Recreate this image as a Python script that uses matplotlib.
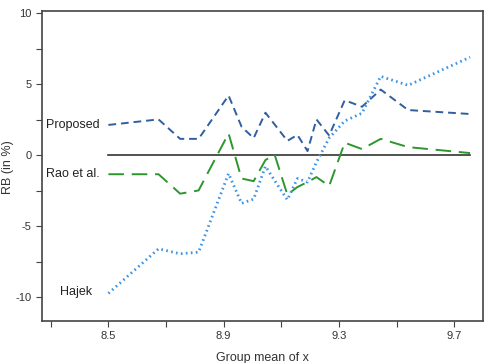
import numpy as np
import matplotlib
matplotlib.use("Agg")
from matplotlib import pyplot as plt

plt.rcParams['font.family'] = ['Liberation Sans', 'DejaVu Sans']

# group means (shared by the three series)
x = [8.50, 8.674, 8.749, 8.813, 8.917, 8.962, 9.004, 9.045, 9.077, 9.121,
     9.156, 9.191, 9.222, 9.266, 9.320, 9.380, 9.445, 9.540, 9.755]

proposed = [2.12, 2.51, 1.14, 1.14, 4.19, 2.0, 1.19, 2.98, 2.15, 1.0,
            1.42, 0.28, 2.51, 1.38, 3.86, 3.4, 4.61, 3.17, 2.89]
rao = [-1.35, -1.35, -2.72, -2.49, 1.52, -1.65, -1.84, -0.35, 0.02, -2.79,
       -2.25, -1.9, -1.55, -2.18, 0.87, 0.42, 1.14, 0.56, 0.14]
hajek = [-9.74, -6.6, -6.95, -6.84, -1.3, -3.4, -3.1, -0.79, -1.8, -3.15,
         -1.65, -1.9, -0.5, 1.2, 2.4, 2.95, 5.54, 4.91, 6.89]

names = ["Proposed", "Rao et al.", "Hajek"]

fig = plt.figure(figsize=(4.84, 3.63), dpi=100)
ax = fig.add_axes([0.087, 0.117, 0.911, 0.853])

ax.plot([x[0], x[-1]], [0, 0], color='#333333', lw=1.2)
ax.plot(x, proposed, color='#2f5f9f', lw=1.4, dashes=(4, 2.5))
ax.plot(x, rao, color='#2e962e', lw=1.4, dashes=(8, 4))
ax.plot(x, hajek, color='#3d95e8', lw=2.0, dashes=(0.6, 1.2))

# labels at the start of each line
ax.text(8.468, proposed[0], names[0], ha='right', va='center', fontsize=9, color='#222222')
ax.text(8.468, rao[0], names[1], ha='right', va='center', fontsize=9, color='#222222')
ax.text(8.444, hajek[0] + 0.1, names[2], ha='right', va='center', fontsize=9, color='#222222')

ax.set_xlim(8.27, 9.80)
ax.set_ylim(-11.65, 10.15)

ax.set_yticks([-10, -5, 0, 5, 10])
ax.set_yticklabels(['-10', '-5', '0', '5', '10'])
ax.set_yticks([-7.5, -2.5, 2.5, 7.5], minor=True)
ax.set_xticks([8.5, 8.9, 9.3, 9.7])
ax.set_xticklabels(['8.5', '8.9', '9.3', '9.7'])
ax.set_xticks([8.3, 8.7, 9.1, 9.5], minor=True)
ax.tick_params(which='both', length=4, width=0.8, color='#444444',
               labelsize=8, labelcolor='#333333')

for s in ax.spines.values():
    s.set_color('#444444')
    s.set_linewidth(1.2)

ax.set_xlabel("Group mean of x", fontsize=9, color='#333333', labelpad=8)
fig.text(0.017, 0.54, "RB (in %)", rotation=90, ha='center', va='center',
         fontsize=9, color='#333333')

plt.savefig("out.png", dpi=100)
